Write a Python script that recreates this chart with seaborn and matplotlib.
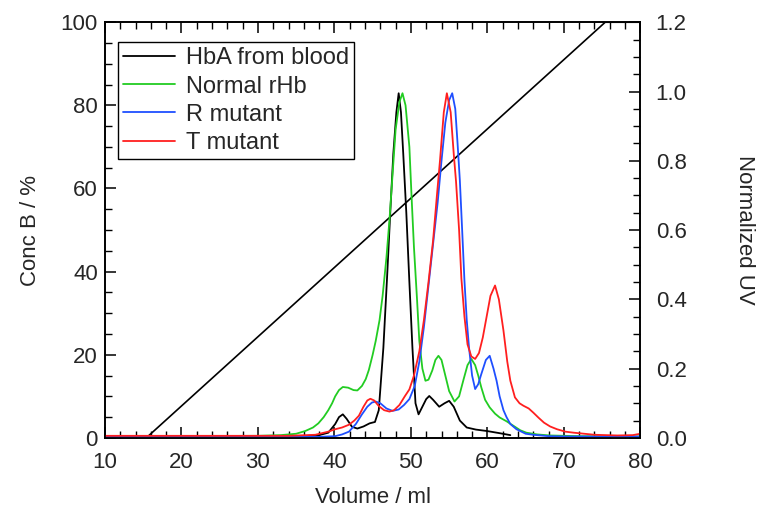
import numpy as np
import pandas as pd
import seaborn as sns
import matplotlib
matplotlib.use("Agg")
import matplotlib.pyplot as plt
from matplotlib.ticker import MultipleLocator, FormatStrFormatter

# gradient (left axis)
grad_x = [10, 15.4, 75.4, 80]
grad_y = [0, 0, 100, 100]

# UV traces (right axis)
hba_x = [10, 20, 30, 36, 38, 39.2, 40.1, 40.6, 41.1, 41.6, 42.3, 43.0, 43.8, 44.6, 45.3, 45.8,
         46.4, 46.9, 47.3, 47.7, 48.1, 48.4, 48.7, 49.0, 49.4, 49.8, 50.2, 50.6, 51.0, 51.5,
         52.0, 52.4, 52.9, 53.7, 54.4, 55.0, 55.6, 56.4, 57.3, 58.5, 59.9, 61.5, 63.0]
hba_y = [0.004, 0.004, 0.004, 0.005, 0.008, 0.015, 0.04, 0.06, 0.068, 0.055, 0.032, 0.027, 0.033,
         0.042, 0.046, 0.08, 0.26, 0.47, 0.65, 0.82, 0.94, 0.995, 0.94, 0.82, 0.65, 0.45, 0.26,
         0.10, 0.068, 0.09, 0.112, 0.121, 0.11, 0.09, 0.10, 0.107, 0.09, 0.05, 0.03, 0.024, 0.02,
         0.014, 0.008]

normal_x = [10, 20, 30, 33, 35, 36.2, 37.2, 37.9, 38.6, 39.2, 39.7, 40.1, 40.6, 41.1, 41.8, 42.5,
            43.0, 43.6, 44.1, 44.5, 45.0, 45.4, 45.9, 46.3, 46.8, 47.2, 47.6, 48.0, 48.5, 48.9,
            49.3, 49.8, 50.1, 50.4, 50.8, 51.1, 51.5, 51.9, 52.3, 52.8, 53.2, 53.6, 54.0, 54.5,
            55.0, 55.7, 56.3, 56.9, 57.4, 57.9, 58.4, 58.8, 59.2, 59.7, 60.3, 61.0, 61.6, 62.5,
            63.4, 64.3, 65.1, 66.5, 68.2, 72, 80]
normal_y = [0.005, 0.005, 0.006, 0.008, 0.012, 0.02, 0.03, 0.042, 0.06, 0.08, 0.10, 0.12, 0.138,
            0.147, 0.145, 0.138, 0.137, 0.15, 0.17, 0.196, 0.24, 0.28, 0.34, 0.41, 0.52, 0.63,
            0.76, 0.89, 0.97, 0.995, 0.96, 0.84, 0.69, 0.55, 0.40, 0.28, 0.20, 0.165, 0.168,
            0.195, 0.225, 0.237, 0.225, 0.18, 0.135, 0.105, 0.12, 0.17, 0.21, 0.228, 0.21, 0.18,
            0.146, 0.11, 0.088, 0.07, 0.059, 0.048, 0.035, 0.022, 0.015, 0.01, 0.007, 0.005, 0.004]

rmut_x = [10, 20, 30, 38, 40.1, 41.0, 41.9, 42.8, 43.6, 44.3, 44.9, 45.4, 46.0, 46.8, 47.6, 48.4,
          49.1, 49.8, 50.5, 51.1, 51.7, 52.3, 52.9, 53.5, 54.0, 54.5, 55.0, 55.4, 55.8, 56.1,
          56.4, 56.7, 57.0, 57.3, 57.6, 58.0, 58.4, 58.8, 59.2, 59.8, 60.3, 60.8, 61.2, 61.6,
          62.1, 62.5, 63.0, 63.8, 65.0, 66.0, 68, 70.4, 80]
rmut_y = [0.003, 0.003, 0.003, 0.003, 0.005, 0.01, 0.018, 0.04, 0.068, 0.09, 0.102, 0.105, 0.10,
          0.085, 0.078, 0.082, 0.095, 0.112, 0.15, 0.22, 0.32, 0.44, 0.56, 0.68, 0.80, 0.91,
          0.975, 0.995, 0.95, 0.85, 0.743, 0.60, 0.454, 0.34, 0.26, 0.18, 0.141, 0.155, 0.184,
          0.225, 0.237, 0.20, 0.165, 0.12, 0.08, 0.06, 0.04, 0.025, 0.012, 0.009, 0.005, 0.004,
          0.004]

tmut_x = [10, 20, 30, 34, 37.5, 39.2, 40.1, 41.0, 41.9, 42.6, 43.2, 43.8, 44.3, 44.7, 45.2, 45.8,
          46.5, 47.2, 47.8, 48.5, 49.2, 49.8, 50.4, 51.1, 51.7, 52.3, 52.9, 53.4, 53.8, 54.3,
          54.7, 55.2, 55.6, 55.9, 56.3, 56.6, 57.0, 57.4, 57.9, 58.4, 58.9, 59.4, 59.9, 60.4,
          61.0, 61.5, 62.1, 62.6, 63.0, 63.6, 64.2, 64.7, 65.4, 66.0, 66.7, 67.4, 68.2, 69.1,
          70.2, 71.3, 74.0, 77.0, 79.0, 80]
tmut_y = [0.006, 0.006, 0.006, 0.006, 0.009, 0.018, 0.025, 0.03, 0.038, 0.05, 0.064, 0.09, 0.108,
          0.113, 0.108, 0.092, 0.08, 0.076, 0.08, 0.095, 0.12, 0.14, 0.18, 0.25, 0.34, 0.45,
          0.57, 0.70, 0.80, 0.94, 0.995, 0.94, 0.82, 0.74, 0.60, 0.46, 0.35, 0.27, 0.235, 0.228,
          0.245, 0.29, 0.35, 0.41, 0.44, 0.40, 0.31, 0.22, 0.165, 0.117, 0.10, 0.093, 0.085,
          0.073, 0.058, 0.044, 0.033, 0.025, 0.018, 0.015, 0.009, 0.007, 0.008, 0.012]

names = ["HbA from blood", "Normal rHb", "R mutant", "T mutant"]
colors = ["#000000", "#22cc22", "#1f4fff", "#ff1f1f"]

frames = []
for name, xs, ys in zip(names, [hba_x, normal_x, rmut_x, tmut_x], [hba_y, normal_y, rmut_y, tmut_y]):
    frames.append(pd.DataFrame({"Volume": xs, "UV": ys, "Sample": name}))
uv = pd.concat(frames, ignore_index=True)
grad = pd.DataFrame({"Volume": grad_x, "ConcB": grad_y})

sns.set_theme(style="ticks")
plt.rcParams["font.family"] = ["Liberation Sans", "DejaVu Sans"]
plt.rcParams["axes.edgecolor"] = "black"
plt.rcParams["axes.linewidth"] = 1.2

fs = 16

fig = plt.figure(figsize=(7.66, 5.17), dpi=100)
ax = fig.add_axes([0.137, 0.153, 0.699, 0.804])
ax2 = ax.twinx()

sns.lineplot(data=grad, x="Volume", y="ConcB", color="black", linewidth=1.2, ax=ax,
             estimator=None, sort=False)
sns.lineplot(data=uv, x="Volume", y="UV", hue="Sample", hue_order=names, palette=colors,
             linewidth=1.3, ax=ax2, estimator=None, sort=False)

ax.set_xlim(10, 80)
ax.set_ylim(0, 100)
ax2.set_ylim(0, 1.2)

ax.xaxis.set_major_locator(MultipleLocator(10))
ax.xaxis.set_minor_locator(MultipleLocator(2))
ax.yaxis.set_major_locator(MultipleLocator(20))
ax.yaxis.set_minor_locator(MultipleLocator(5))
ax2.yaxis.set_major_locator(MultipleLocator(0.2))
ax2.yaxis.set_minor_locator(MultipleLocator(0.05))
ax2.yaxis.set_major_formatter(FormatStrFormatter("%.1f"))

ax.tick_params(axis="x", which="both", direction="in", top=True, bottom=True, labelsize=fs,
               color="black", pad=10)
ax.tick_params(axis="y", which="both", direction="in", left=True, right=False, labelsize=fs,
               color="black", pad=5)
ax2.tick_params(axis="y", which="both", direction="in", right=True, left=False, labelsize=fs,
                color="black", pad=11)
for a in (ax, ax2):
    a.tick_params(which="major", length=8, width=1.1)
    a.tick_params(which="minor", length=5, width=1.0)

ax.set_xlabel("Volume / ml", fontsize=fs, labelpad=10)
ax.set_ylabel("Conc B / %", fontsize=fs, labelpad=14)
ax2.set_ylabel("Normalized UV", fontsize=fs, rotation=270, va="bottom", labelpad=34)

leg = ax2.legend(loc="upper left", bbox_to_anchor=(0.024, 0.952), borderaxespad=0,
                 fontsize=17, frameon=True, fancybox=False, framealpha=1,
                 edgecolor="black", handlelength=2.2, handletextpad=0.45,
                 labelspacing=0.26, borderpad=0.22)
leg.get_frame().set_linewidth(1.0)
for line in leg.get_lines():
    line.set_linewidth(1.3)

fig.savefig("out.png", dpi=100)
